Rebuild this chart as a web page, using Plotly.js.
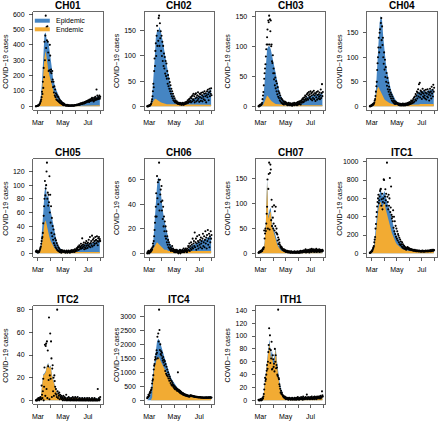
<!DOCTYPE html>
<html><head><meta charset="utf-8">
<script src="https://cdn.plot.ly/plotly-3.0.1.min.js"></script>
<style>html,body{margin:0;padding:0;background:#fff}#chart{width:440px;height:422px}</style>
</head><body><div id="chart"></div>
<script>
// ---------------- DATA ----------------
const regions = ['CH01','CH02','CH03','CH04','CH05','CH06','CH07','ITC1','ITC2','ITC4','ITH1'];
const startDate = '2020-02-25';   // first day of daily counts
const fitStep = 3;                // fitted components given every 3 days
const monthTicks = ['2020-03-01','2020-04-01','2020-05-01','2020-06-01','2020-07-01','2020-08-01'];
const monthLabels = ['Mar','','May','','Jul',''];
const yTickStep = [100,50,50,50,20,20,50,200,20,500,20];
const seriesNames = ['Epidemic','Endemic'];

// observed daily counts
const obs_CH01 = [0,1,2,2,3,5,6, 8,10,15,20,28,35,45, 60,95,80,160,120,250,190, 420,300,460,590,380,515,430, 520,420,350,230,300,235,400, 330,225,240,215,160,230,175, 125,160,90,130,70,110,60, 85,45,75,40,65,35,60, 30,48,25,40,20,35,18, 28,14,22,10,20,8,16, 12,7,11,5,9,4,10, 6,8,3,7,5,4,6, 5,6,4,5,7,5,6, 4,6,5,8,6,7,9, 8,10,7,12,9,11,14, 12,15,10,18,14,20,16, 18,22,15,25,20,24,19, 28,22,30,25,33,27,35, 30,38,32,40,28,45,36, 42,35,50,40,55,38,48, 40,32,55,38,48,62,42, 52,110,45,70,50,60,48, 55,70,50,62];
const obs_CH02 = [0,0,1,0,1,2,1, 2,3,4,6,10,14,20, 30,45,38,70,95,80,110, 125,100,140,160,120,150,130, 175,180,120,165,135,149,110, 140,100,128,90,120,80,105, 75,98,65,90,60,85,55, 70,45,62,40,55,35,48, 30,42,25,35,20,30,16, 25,12,20,10,16,8,12, 9,7,10,6,8,5,7, 5,6,4,7,5,6,3, 6,4,5,7,3,5,6, 4,6,8,5,7,9,6, 8,12,7,10,14,9,15, 11,18,8,16,20,10,22, 14,25,12,20,8,24,16, 26,10,18,22,12,28,15, 20,9,25,18,24,11,27, 16,22,10,28,19,14,25, 30,12,20,26,8,22,30, 18,33,24,12,28,35,20, 30,25,36,22];
const obs_CH03 = [0,1,0,2,1,3,2, 3,4,6,12,18,24,35, 46,55,63,70,83,95,103, 115,128,103,143,140,151,103, 145,125,143,100,103,75,72, 85,55,63,45,55,35,48, 30,42,25,38,20,32,16, 25,14,22,10,18,8,14, 6,12,5,10,4,8,3, 6,8,5,7,4,6,3, 5,2,4,3,6,2,4, 3,5,2,4,3,1,5, 2,4,3,6,2,4,3, 5,3,6,2,4,7,3, 5,8,4,6,9,3,7, 10,6,12,8,14,7,11, 15,9,18,12,16,10,20, 13,22,11,18,24,14,20, 16,25,12,22,18,10,24, 14,20,26,12,18,22,9, 21,15,24,11,19,25,13, 20,16,23,12,18,28,14, 22,37,17,24];
const obs_CH04 = [0,1,0,1,2,3,2, 3,5,4,6,8,12,15, 21,30,41,50,74,88,100, 120,140,110,150,157,120,170, 180,135,163,125,140,100,87, 110,75,95,60,80,50,68, 42,58,35,48,30,40,24, 34,20,28,16,24,12,20, 10,16,8,12,6,10,5, 10,7,8,6,5,7,4, 5,3,6,4,2,5,3, 4,2,5,3,6,2,4, 3,5,2,4,6,3,5, 4,7,3,6,8,4,6, 9,5,8,12,6,10,7, 12,15,8,18,10,20,14, 25,12,22,30,16,28,35, 20,45,26,48,18,32,24, 30,15,28,36,20,26,18, 32,22,16,28,34,14,26, 20,35,18,30,24,12,28, 36,22,30,16,40,26,34, 20,44,30,38];
const obs_CH05 = [3,2,4,2,3,1,2, 3,2,4,6,8,10,14, 18,22,24,30,44,55,69, 80,106,85,95,100,120,133, 80,89,70,86,75,113,60, 86,45,69,30,52,25,40, 20,35,15,28,12,22,9, 19,7,15,5,12,4,9, 3,7,2,5,2,4,1, 5,3,4,2,3,2,4, 3,2,1,3,2,4,2, 1,3,2,4,2,3,1, 2,4,3,2,5,3,2, 4,3,5,2,6,3,4, 5,7,4,8,6,10,5, 9,12,6,10,8,14,7, 11,22,8,13,10,16,6, 12,9,15,7,18,11,14, 8,16,12,20,10,14,24, 9,15,18,12,26,10,20, 16,22,12,18,14,24,19, 20,15,25,18,12,22,17, 24,19,21,18];
const obs_CH06 = [0,1,0,2,1,0,1, 2,1,3,2,4,3,5, 8,6,10,14,19,25,30, 38,49,30,63,45,58,40, 60,74,35,60,48,52,42, 55,35,43,28,38,22,30, 18,26,14,22,12,18,9, 14,7,11,5,9,4,7, 3,5,2,4,3,6,2, 4,2,3,1,2,3,1, 2,1,3,2,1,2,0, 1,2,1,3,0,2,1, 2,1,3,2,1,4,2, 1,3,2,4,2,3,1, 4,2,6,3,5,8,2, 6,4,9,3,7,5,12, 4,8,10,6,17,5,9, 12,3,8,14,6,10,4, 9,15,7,11,5,13,8, 10,4,12,16,6,9,14, 5,11,18,8,13,4,15, 10,19,7,12,16,5,14, 9,18,12,15];
const obs_CH07 = [1,2,3,2,4,3,5, 4,6,5,8,10,9,12, 46,30,40,50,45,60,80, 94,149,50,130,160,183,48, 162,179,169,67,108,55,94, 72,50,60,97,46,85,55, 94,42,50,40,38,26,32, 19,28,22,18,15,12,14, 10,12,8,9,7,6,8, 5,7,4,6,3,5,4, 3,5,2,4,3,2,4, 2,3,1,4,2,3,2, 1,3,2,2,4,1,3, 2,1,3,2,4,2,1, 3,2,4,1,3,5,2, 4,3,2,5,3,4,6, 3,5,4,8,2,6,4, 5,3,7,4,6,2,5, 8,4,6,3,9,5,7, 4,6,8,3,5,7,4, 6,9,3,5,7,4,6, 5,8,3,6,4,7,5, 6,4,7,5];
const obs_ITC1 = [5,10,8,15,20,30,25, 40,55,65,80,120,150,178, 270,320,400,450,511,560,600, 640,548,580,620,680,696,704, 520,590,650,480,560,600,807, 800,550,620,700,580,650,520, 990,617,560,480,640,520,600, 822,450,500,730,420,380,400, 350,470,280,400,240,350,210, 300,180,270,160,240,140,210, 193,120,170,100,150,90,130, 100,75,120,65,100,55,85, 80,50,70,45,60,40,55, 55,70,50,60,45,55,40, 50,42,48,35,45,38,40, 32,40,28,35,30,38,25, 30,26,34,22,28,32,24, 28,20,30,25,22,26,18, 24,28,20,30,22,26,18, 25,20,28,22,30,24,26, 20,28,32,22,26,30,24, 28,35,22,30,26,38,28, 32,40,30,36];
const obs_ITC2 = [0,0,0,1,0,1,2, 1,0,2,1,3,2,1, 13,5,2,8,19,0,12, 29,49,4,48,50,10,52, 2,44,30,18,73,1,22, 59,19,52,37,3,28,31, 8,20,4,22,17,12,6, 10,5,3,80,8,2,6, 4,7,1,5,3,2,4, 1,3,2,0,4,1,2, 3,0,2,1,5,0,1, 2,0,1,3,0,1,2, 0,1,0,2,1,0,3, 1,0,2,0,1,3,0, 2,0,1,0,3,1,0, 1,0,2,0,1,0,1, 0,2,0,1,0,1,0, 2,0,1,0,0,1,2, 0,1,0,0,2,0,1, 0,0,1,0,2,0,0, 1,0,0,2,0,1,0, 0,1,0,0,10,0,1, 2,0,1,3];
const obs_ITC4 = [80,120,100,200,150,180,250, 300,280,350,390,450,600,700, 750,900,1100,1240,1300,1450,1550, 1480,1650,1790,1700,2270,1500,2390, 2100,3240,2510,1800,2000,1650,1750, 1600,1700,1500,1420,1550,1350,1450, 1250,1400,1050,1300,950,1200,900, 1100,850,1000,780,920,700,850, 780,620,720,560,680,520,620, 560,480,540,430,500,400,470, 450,380,420,340,400,1000,330, 380,300,350,270,330,250,300, 280,230,260,210,250,190,230, 220,180,210,170,200,160,190, 175,150,170,140,160,130,150, 170,180,160,170,150,160,150, 150,140,150,130,140,120,135, 120,130,110,125,115,120,105, 110,120,100,115,105,110,95, 100,110,95,105,90,100,95, 100,90,105,95,110,90,100, 95,105,90,110,100,95,105, 110,100,95,105];
const obs_ITH1 = [1,0,0,1,0,2,1, 0,2,1,4,3,6,10, 17,25,35,30,33,40,46, 55,49,60,75,86,112,80, 101,58,78,65,91,48,49, 70,64,52,57,45,80,60, 70,50,55,51,40,38,141, 35,33,25,22,18,12,15, 10,12,9,8,6,7,5, 4,6,3,5,2,4,3, 2,3,4,1,3,2,4, 3,2,1,3,2,4,2, 1,3,2,2,4,1,3, 2,4,1,3,2,5,2, 3,1,4,2,3,2,5, 2,3,4,1,6,3,2, 4,2,3,5,2,4,9, 3,2,5,3,4,2,3, 5,3,2,4,6,3,2, 4,3,5,2,6,4,3, 5,2,4,6,3,5,4, 6,3,5,4,7,3,6, 5,14,8,6];

// fitted endemic component (every fitStep days)
const endemic_CH01 = [0,0,0,5,30,90,200,320,360,290,240,200,170,130,100,80,60,45,35,25,18,14,10,8,6,5,4,4,3,3,3,3,3,3,3,3,4,4,4,4,5,5,5,5,5,6,6,6,6,7,7,7,7];
const endemic_CH02 = [0,0,0,2,5,10,14,15,13,11,9,8,7,6,5,5,4,4,4,3,3,3,3,3,3,3,3,3,3,3,3,3,3,3,3,3,3,3,3,3,3,3,3,3,3,3,3,3,3,3,3,3,3];
const endemic_CH03 = [0,0,0,1,3,8,14,18,16,12,10,8,6,5,4,4,3,3,3,3,2,2,2,2,2,2,2,2,2,2,2,2,2,2,2,2,2,2,2,2,2,2,2,2,2,2,2,2,2,2,2,2,2];
const endemic_CH04 = [0,0,0,2,8,20,35,40,35,30,22,18,14,12,10,8,7,6,5,4,4,3,3,3,3,3,3,3,3,3,3,3,3,3,3,3,4,4,4,4,4,5,5,5,5,5,5,5,5,5,5,5,5];
const endemic_CH05 = [0,0,0,2,6,15,30,45,48,38,30,24,18,14,11,8,6,4,3,2,2,2,2,2,2,2,2,2,2,2,2,2,2,2,2,2,2,2,2,2,2,2,2,2,2,2,2,2,2,2,2,2,2];
const endemic_CH06 = [0,0,0,1,2,4,6,8,9,8,7,6,5,4,3,3,3,2,2,2,2,2,2,2,2,2,2,2,2,2,2,2,2,2,2,2,2,2,2,2,2,2,2,2,2,2,2,2,2,2,2,2,2];
const endemic_CH07 = [0,0,1,3,6,20,60,145,70,80,85,55,45,35,28,20,14,10,7,5,4,3,3,3,3,2,2,2,2,2,2,2,2,2,2,2,2,2,2,2,2,2,2,2,2,2,2,2,2,2,2,2,2];
const endemic_ITC1 = [0,0,10,40,100,250,380,480,550,560,500,540,560,480,420,370,320,270,220,180,150,120,100,85,70,60,50,45,40,35,30,28,25,25,24,23,22,22,21,21,20,20,20,20,20,20,20,20,20,20,20,20,20];
const endemic_ITC2 = [0,0,0,0,2,12,22,23,25,30,32,28,30,22,17,14,10,7,5,4,3,2.5,2,2,2,2,2,2,1.5,1.5,1.5,1.5,1.5,1.5,1.5,1.5,1.5,1.5,1.5,1.5,1.5,1.5,1.5,1.5,1.5,1.5,1.5,1.5,1.5,1.5,1.5,1.5,1.5];
const endemic_ITC4 = [0,0,0,0,100,900,1200,1400,1500,1550,1500,1400,1300,1200,1100,1000,950,870,800,720,600,550,500,450,400,350,310,280,250,220,200,185,170,155,140,130,120,110,100,95,90,85,80,78,75,72,70,68,66,65,64,62,60];
const endemic_ITH1 = [0,0,0,0,5,25,45,65,75,90,65,70,55,60,80,55,35,25,15,10,6,4,3,3,3,3,3,2,2,2,2,2,2,2,2,2,2,2,2,2,2,2,2,2,2,3,3,3,3,3,4,4,5];

// fitted mean = endemic + epidemic (every fitStep days)
const fitted_CH01 = [0,0,2,15,60,160,330,470,480,420,430,380,300,250,180,140,120,100,80,60,45,35,27,20,15,12,10,9,8,8,8,9,10,11,12,14,16,18,20,22,25,28,32,35,38,42,46,50,55,60,62,65,68];
const fitted_CH02 = [0,0,2,5,20,50,90,135,150,148,158,150,140,125,110,95,80,65,50,40,30,22,16,12,9,7,6,6,6,6,6,7,8,9,10,12,14,15,16,17,18,19,20,21,22,22,23,24,26,28,30,32,35];
const fitted_CH03 = [0,0,1,3,15,40,70,95,100,100,95,85,72,60,50,40,32,25,19,14,11,9,7,6,5,4,4,4,4,4,4,4,4,5,6,8,10,12,14,15,16,17,18,18,19,19,20,20,20,21,21,22,22];
const fitted_CH04 = [0,0,1,4,10,35,80,130,170,185,175,140,110,90,72,58,45,36,28,22,17,13,10,8,7,6,5,5,5,5,5,5,5,6,7,8,12,18,25,28,30,30,30,32,32,30,30,32,33,33,34,35,35];
const fitted_CH05 = [0,1,2,4,10,30,60,90,100,82,86,72,62,50,40,30,22,16,12,9,7,5,4,3,3,3,3,3,3,3,3,3,3,3,4,5,8,12,12,13,13,14,14,15,15,15,16,16,17,17,18,19,20];
const fitted_CH06 = [0,0,1,2,4,10,25,45,55,62,60,50,40,33,27,22,16,12,9,7,5,4,3,3,3,3,3,3,3,3,3,3,3,3,4,5,6,7,7,8,8,9,9,10,10,11,11,12,12,13,13,14,14];
const fitted_CH07 = [0,0,1,4,8,22,64,150,75,88,92,62,52,42,34,26,18,13,9,7,6,5,5,5,5,4,4,4,4,4,4,4,4,4,4,4,4,4,4,4,4,4,4,4,4,4,4,5,5,5,5,5,5];
const fitted_ITC1 = [0,5,30,60,150,300,450,600,650,700,620,650,680,620,560,520,480,420,360,300,260,220,190,160,140,120,105,90,80,70,60,55,50,45,42,40,38,36,35,34,33,32,32,32,32,33,34,35,36,38,40,42,45];
const fitted_ITC2 = [0,0,0,0,2,13,23,24,26,31,33,29,31,23,18,15,11,8,6,5,4,3,2.5,2.5,2.5,2.5,2.5,2.5,2,2,2,2,2,2,2,2,2,2,2,2,2,2,2,2,2,2,2,2,2,2,2,2,2];
const fitted_ITC4 = [0,50,150,300,700,1100,1500,1800,2100,2200,2150,2000,1800,1700,1550,1400,1250,1100,950,850,750,680,600,530,470,420,380,340,310,280,250,230,210,195,180,165,150,140,135,130,125,122,120,118,118,120,122,125,130,135,140,145,150];
const fitted_ITH1 = [0,0,0,1,6,27,48,68,80,95,70,78,62,68,82,62,42,30,20,13,8,6,5,5,5,4,4,4,4,4,4,4,4,4,4,4,4,4,4,4,4,4,4,4,4,5,5,5,5,5,6,6,7];

const observed = [obs_CH01,obs_CH02,obs_CH03,obs_CH04,obs_CH05,obs_CH06,obs_CH07,obs_ITC1,obs_ITC2,obs_ITC4,obs_ITH1];
const endemic = [endemic_CH01,endemic_CH02,endemic_CH03,endemic_CH04,endemic_CH05,endemic_CH06,endemic_CH07,endemic_ITC1,endemic_ITC2,endemic_ITC4,endemic_ITH1];
const fitted = [fitted_CH01,fitted_CH02,fitted_CH03,fitted_CH04,fitted_CH05,fitted_CH06,fitted_CH07,fitted_ITC1,fitted_ITC2,fitted_ITC4,fitted_ITH1];

// ---------------- DRAWING ----------------
const W = 440, H = 422;
const colLeft = [33.3, 144.6, 255.9, 367.2], boxW = 69.5;
const rowTop = [12, 159, 306], boxH = 98;
const BLUE = '#4585C3', ORANGE = '#F2AB33';
const FONT = 'Liberation Sans, Arial, Helvetica, sans-serif';

const t0 = Date.parse(startDate + 'T00:00:00Z');
function dateOf(d) { return new Date(t0 + d * 86400000).toISOString().replace('T', ' ').replace('Z', ''); }

const traces = [];
const layout = {
  width: W, height: H, margin: {l: 0, r: 0, t: 0, b: 0},
  paper_bgcolor: '#fff', plot_bgcolor: '#fff', showlegend: false,
  font: {family: FONT, size: 7, color: '#000'},
  annotations: [], shapes: []
};

regions.forEach((name, i) => {
  const k = i + 1, sfx = k === 1 ? '' : String(k);
  const row = Math.floor(i / 4), col = i % 4;
  const L = colLeft[col], T = rowTop[row];
  const obs = observed[i], end = endemic[i], fit = fitted[i];
  const obsX = obs.map((_, j) => dateOf(j));
  const fitX = fit.map((_, j) => dateOf(j * fitStep));
  const M = Math.max(...obs, ...fit);
  const xa = 'x' + sfx, ya = 'y' + sfx;

  traces.push({type: 'scatter', mode: 'lines', x: fitX, y: fit, xaxis: xa, yaxis: ya,
    line: {width: 0, color: BLUE}, fill: 'tozeroy', fillcolor: BLUE, hoverinfo: 'skip', name: seriesNames[0]});
  traces.push({type: 'scatter', mode: 'lines', x: fitX, y: end, xaxis: xa, yaxis: ya,
    line: {width: 0, color: ORANGE}, fill: 'tozeroy', fillcolor: ORANGE, hoverinfo: 'skip', name: seriesNames[1]});
  traces.push({type: 'scatter', mode: 'markers', x: obsX, y: obs, xaxis: xa, yaxis: ya,
    marker: {size: 2.1, color: '#000'}, hoverinfo: 'skip', name: 'observed'});

  layout['xaxis' + sfx] = {
    domain: [L / W, (L + boxW) / W], anchor: ya, type: 'date',
    range: [dateOf(-6.3), dateOf(obs.length - 1 + 6.3)],
    tickmode: 'array', tickvals: monthTicks, ticktext: monthLabels,
    ticks: 'outside', ticklen: 3.5, tickwidth: 0.8, tickcolor: '#333',
    showline: true, mirror: true, linecolor: '#444', linewidth: 0.8,
    showgrid: false, zeroline: false, ticklabelstandoff: 2,
    tickfont: {family: FONT, size: 7, color: '#000'}
  };
  layout['yaxis' + sfx] = {
    domain: [1 - (T + boxH) / H, 1 - T / H], anchor: xa,
    range: [-0.04 * M, 1.04 * M], tick0: 0, dtick: yTickStep[i],
    ticks: 'outside', ticklen: 3.5, tickwidth: 0.8, tickcolor: '#333',
    showline: true, mirror: true, linecolor: '#444', linewidth: 0.8,
    showgrid: false, zeroline: false, ticklabelstandoff: 3,
    tickfont: {family: FONT, size: 7, color: '#000'}
  };
  layout.annotations.push({xref: 'paper', yref: 'paper', x: (L + boxW / 2) / W, y: 1 - (T - 6.5) / H,
    text: '<b>' + name + '</b>', showarrow: false, xanchor: 'center', yanchor: 'middle',
    font: {family: FONT, size: 10, color: '#000'}});
  layout.annotations.push({xref: 'paper', yref: 'paper', x: (L - 28.5) / W, y: 1 - (T + boxH / 2) / H,
    text: 'COVID\u221219 cases', showarrow: false, textangle: -90, xanchor: 'center', yanchor: 'middle',
    font: {family: FONT, size: 7, color: '#000'}});
});

// legend inside first panel
const legY = [20.7, 29.3], legCol = [BLUE, ORANGE];
seriesNames.forEach((s, j) => {
  layout.shapes.push({type: 'line', xref: 'paper', yref: 'paper', layer: 'above',
    x0: (colLeft[0] + 1.5) / W, x1: (colLeft[0] + 16.5) / W, y0: 1 - legY[j] / H, y1: 1 - legY[j] / H,
    line: {color: legCol[j], width: 4}});
  layout.annotations.push({xref: 'paper', yref: 'paper', x: (colLeft[0] + 21) / W, y: 1 - legY[j] / H,
    text: s, showarrow: false, xanchor: 'left', yanchor: 'middle',
    font: {family: FONT, size: 7, color: '#000'}});
});

Plotly.newPlot('chart', traces, layout, {staticPlot: true, displayModeBar: false});
</script>
</body></html>
